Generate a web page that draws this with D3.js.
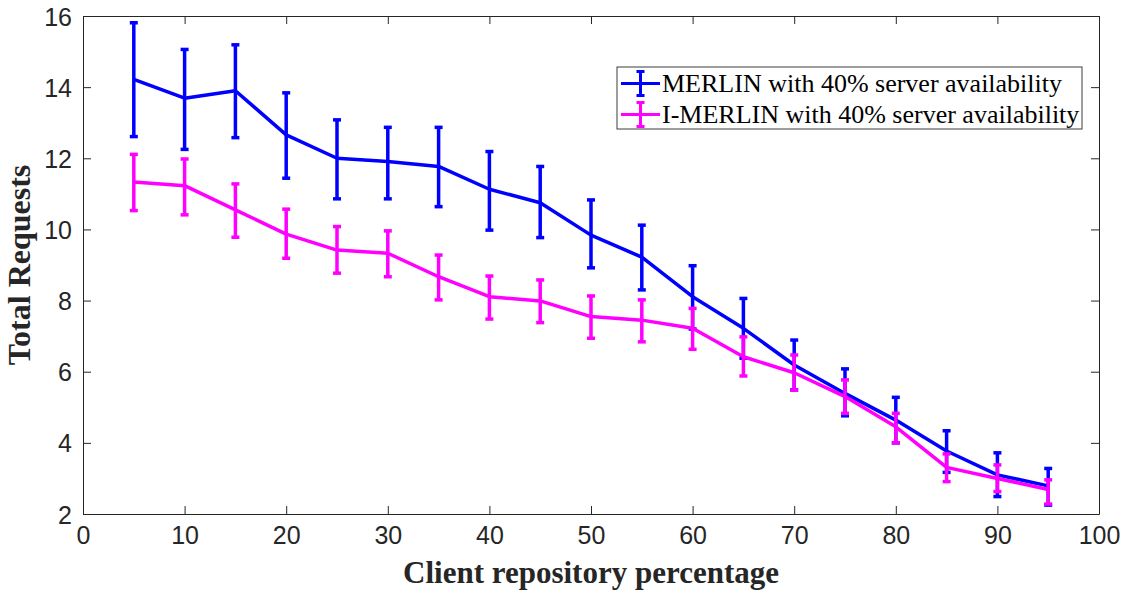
<!DOCTYPE html>
<html lang="en">
<head>
  <meta charset="UTF-8">
  <title>Total Requests</title>
  <style>
    body { margin: 0; background: #fff; }
    svg { display: block; }
    .tick text { font-family: Arial, "Liberation Sans", sans-serif; font-size: 25px; fill: #262626; }
  </style>
</head>
<body>
  <svg id="chart"></svg>

  <script src="https://d3js.org/d3.v7.min.js"></script>
  <script>
    // client repository percentage
    var xValues = [5, 10, 15, 20, 25, 30, 35, 40, 45, 50, 55, 60, 65, 70, 75, 80, 85, 90, 95];

    // MERLIN with 40% server availability
    var merlinMean = [14.22, 13.69, 13.90, 12.66, 12.00, 11.91, 11.77, 11.13, 10.75, 9.84, 9.22, 8.11, 7.22, 6.19, 5.39, 4.64, 3.77, 3.10, 2.79];
    var merlinHigh = [15.81, 15.06, 15.19, 13.84, 13.08, 12.87, 12.87, 12.19, 11.77, 10.83, 10.12, 8.98, 8.06, 6.89, 6.08, 5.28, 4.34, 3.72, 3.28];
    var merlinLow  = [12.61, 12.25, 12.58, 11.44, 10.86, 10.86, 10.64, 9.98, 9.77, 8.92, 8.30, 7.20, 6.38, 5.49, 4.76, 4.00, 3.17, 2.49, 2.25];

    // I-MERLIN with 40% server availability
    var imerlinMean = [11.33, 11.23, 10.55, 9.87, 9.42, 9.33, 8.67, 8.11, 7.99, 7.55, 7.45, 7.22, 6.42, 5.97, 5.30, 4.45, 3.31, 3.00, 2.69];
    var imerlinHigh = [12.11, 11.98, 11.28, 10.57, 10.08, 9.96, 9.28, 8.69, 8.58, 8.13, 8.02, 7.78, 6.98, 6.47, 5.77, 4.83, 3.69, 3.38, 2.96];
    var imerlinLow  = [10.53, 10.41, 9.78, 9.19, 8.77, 8.67, 8.02, 7.48, 7.38, 6.94, 6.84, 6.63, 5.88, 5.48, 4.83, 4.00, 2.91, 2.63, 2.28];

    var xTicks = [0, 10, 20, 30, 40, 50, 60, 70, 80, 90, 100];
    var yTicks = [2, 4, 6, 8, 10, 12, 14, 16];

    var seriesNames = ['MERLIN with 40% server availability', 'I-MERLIN with 40% server availability'];
    var seriesColors = ['#0000ff', '#ff00ff'];

    var W = 1126, H = 596;
    var margin = { top: 16, right: 27, bottom: 82, left: 83 };
    var width = W - margin.left - margin.right;
    var height = H - margin.top - margin.bottom;

    var svg = d3.select('#chart').attr('width', W).attr('height', H);
    var g = svg.append('g').attr('transform', 'translate(' + margin.left + ',' + margin.top + ')');

    var x = d3.scaleLinear().domain([0, 100]).range([0, width]);
    var y = d3.scaleLinear().domain([2, 16]).range([height, 0]);

    // axes, ticks pointing inward on all four sides
    var axisColor = '#262626';
    function styleAxis(sel) {
      sel.select('.domain').attr('stroke', axisColor).attr('stroke-width', 1);
      sel.selectAll('.tick line').attr('stroke', axisColor);
    }

    g.append('g')
      .attr('transform', 'translate(0,' + height + ')')
      .call(d3.axisBottom(x).tickValues(xTicks).tickSizeInner(-8).tickSizeOuter(0).tickPadding(12))
      .call(styleAxis)
      .selectAll('text').attr('dy', '0.71em');

    g.append('g')
      .call(d3.axisLeft(y).tickValues(yTicks).tickSizeInner(-8).tickSizeOuter(0).tickPadding(11))
      .call(styleAxis)
      .selectAll('text').attr('dy', '0.36em');

    g.append('g')
      .call(d3.axisTop(x).tickValues(xTicks).tickSizeInner(-8).tickSizeOuter(0).tickFormat(''))
      .call(styleAxis);

    g.append('g')
      .attr('transform', 'translate(' + width + ',0)')
      .call(d3.axisRight(y).tickValues(yTicks).tickSizeInner(-8).tickSizeOuter(0).tickFormat(''))
      .call(styleAxis);

    // series
    var series = [
      { mean: merlinMean, low: merlinLow, high: merlinHigh },
      { mean: imerlinMean, low: imerlinLow, high: imerlinHigh }
    ];

    var line = d3.line()
      .x(function (d) { return x(d.x); })
      .y(function (d) { return y(d.m); });

    var capW = 4;

    series.forEach(function (s, si) {
      var pts = xValues.map(function (xv, i) {
        return { x: xv, m: s.mean[i], lo: s.low[i], hi: s.high[i] };
      });
      var col = seriesColors[si];
      var sg = g.append('g');

      sg.append('path')
        .datum(pts)
        .attr('d', line)
        .attr('fill', 'none')
        .attr('stroke', col)
        .attr('stroke-width', 3.5)
        .attr('stroke-linejoin', 'round');

      var eb = sg.selectAll('g.err').data(pts).enter().append('g').attr('class', 'err')
        .attr('stroke', col).attr('stroke-width', 3.5);
      eb.append('line')
        .attr('x1', function (d) { return x(d.x); })
        .attr('x2', function (d) { return x(d.x); })
        .attr('y1', function (d) { return y(d.lo); })
        .attr('y2', function (d) { return y(d.hi); });
      eb.append('line')
        .attr('x1', function (d) { return x(d.x) - capW; })
        .attr('x2', function (d) { return x(d.x) + capW; })
        .attr('y1', function (d) { return y(d.hi); })
        .attr('y2', function (d) { return y(d.hi); });
      eb.append('line')
        .attr('x1', function (d) { return x(d.x) - capW; })
        .attr('x2', function (d) { return x(d.x) + capW; })
        .attr('y1', function (d) { return y(d.lo); })
        .attr('y2', function (d) { return y(d.lo); });
    });

    // legend
    var lg = svg.append('g').attr('transform', 'translate(617,67)');
    lg.append('rect')
      .attr('width', 465).attr('height', 62)
      .attr('fill', '#fff').attr('stroke', '#3c3c3c').attr('stroke-width', 1);

    seriesNames.forEach(function (name, i) {
      var cy = 16.5 + i * 31;
      var col = seriesColors[i];
      var row = lg.append('g').attr('stroke', col).attr('stroke-width', 3);
      row.append('line').attr('x1', 4).attr('x2', 43).attr('y1', cy).attr('y2', cy);
      row.append('line').attr('x1', 23.5).attr('x2', 23.5).attr('y1', cy - 12).attr('y2', cy + 12);
      row.append('line').attr('x1', 19.5).attr('x2', 27.5).attr('y1', cy - 12).attr('y2', cy - 12);
      row.append('line').attr('x1', 19.5).attr('x2', 27.5).attr('y1', cy + 12).attr('y2', cy + 12);
      lg.append('text')
        .attr('x', 45).attr('y', cy)
        .attr('dy', '0.33em')
        .attr('font-family', '"Liberation Serif", "Times New Roman", serif')
        .attr('font-size', 26)
        .attr('fill', '#000')
        .text(name);
    });

    // axis titles
    svg.append('text')
      .attr('x', margin.left + width / 2).attr('y', 583)
      .attr('text-anchor', 'middle')
      .attr('font-family', '"Liberation Serif", "Times New Roman", serif')
      .attr('font-weight', 'bold')
      .attr('font-size', 31)
      .attr('fill', '#262626')
      .text('Client repository percentage');

    svg.append('text')
      .attr('transform', 'translate(30,' + (margin.top + height / 2) + ') rotate(-90)')
      .attr('text-anchor', 'middle')
      .attr('font-family', '"Liberation Serif", "Times New Roman", serif')
      .attr('font-weight', 'bold')
      .attr('font-size', 32)
      .attr('fill', '#262626')
      .text('Total Requests');
  </script>
</body>
</html>
